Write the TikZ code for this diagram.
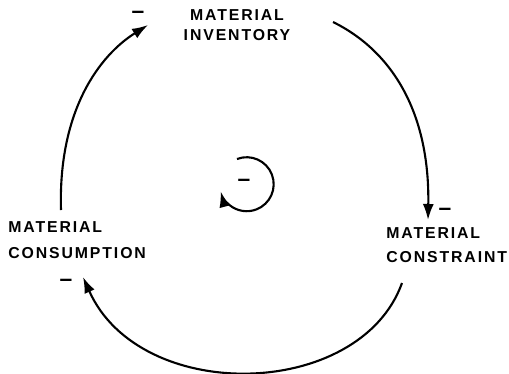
\documentclass[tikz,border=0pt]{standalone}
\usepackage{fontspec}
\newfontfamily\lblfont[LetterSpace=12]{Liberation Sans}
\newfontfamily\sgnfont{Liberation Sans}
\usetikzlibrary{arrows.meta}

\begin{document}
\begin{tikzpicture}[x=0.02cm,y=-0.02cm,
  arr/.style={-{Latex[length=3.2mm,width=2.2mm]},line width=1.2pt},
  var/.style={font=\lblfont\bfseries\fontsize{9}{11.5}\selectfont,inner sep=0pt},
  sgn/.style={font=\sgnfont\bfseries\fontsize{13}{13}\selectfont,inner sep=0pt}]
  \useasboundingbox (0,0) rectangle (509,373);
  %% variables
  \node[var,align=center] (inv) at (237,25) {MATERIAL\\INVENTORY};
  \node[var,align=left,anchor=west] (constr) at (386,245) {MATERIAL\\[2pt]CONSTRAINT};
  \node[var,align=left,anchor=west] (cons) at (8,240) {MATERIAL\\[3pt]CONSUMPTION};
  %% polarity signs
  \node[sgn] (sgninv) at (138,15) {–};
  \node[sgn] (sgnconstr) at (445,212) {–};
  \node[sgn] (sgncons) at (66,283) {–};
  \node[sgn] (loop) at (244,183) {–};
  %% link ends
  \coordinate (consout) at (61,210);
  \coordinate (invin) at (148,25);
  \coordinate (invout) at (333,22);
  \coordinate (constrin) at (428,220);
  \coordinate (constrout) at (402,283);
  \coordinate (consin) at (83,277);
  % consumption -> inventory
  \draw[arr] (consout) .. controls (58,110) and (100,55) .. (invin);
  % inventory -> constraint
  \draw[arr] (invout) .. controls (390,50) and (430,110) .. (constrin);
  % constraint -> consumption
  \draw[arr] (constrout) .. controls (360,400) and (140,405) .. (consin);
  % loop sign
  \draw[arr] (loop) ++(-7,-24) arc[start angle=-111,end angle=165,radius=27];
\end{tikzpicture}
\end{document}
